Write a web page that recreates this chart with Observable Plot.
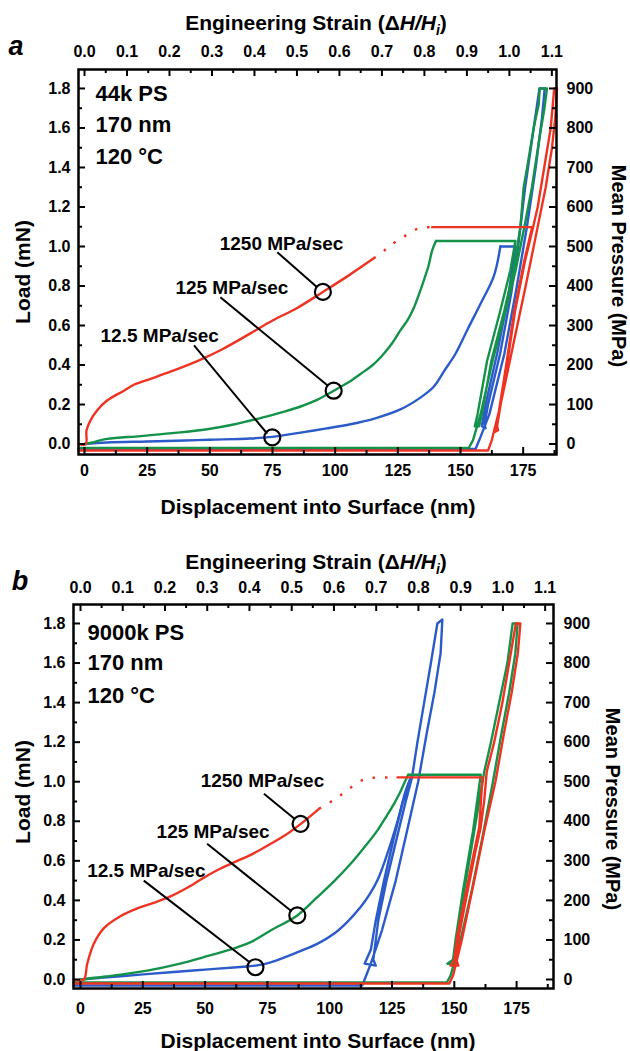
<!DOCTYPE html>
<html>
<head>
<meta charset="utf-8">
<script src="https://cdn.jsdelivr.net/npm/d3@7"></script>
<script src="https://cdn.jsdelivr.net/npm/@observablehq/plot@0.6"></script>
<style>
  html, body { margin: 0; padding: 0; background: #fff; }
  .panel { line-height: 0; width: 630px; }
  .panel svg { display: block; }
</style>
</head>
<body>
<div id="panelA" class="panel"></div>
<div id="panelB" class="panel"></div>
<script>
// ---------- constants ----------
const RED = "#ee3322", GREEN = "#14924a", BLUE = "#2a5bc9";
const FONT = "'Liberation Sans', Arial, Helvetica, sans-serif";
const FILM_NM = 169.5;      // strain = displacement / film thickness
const MPA_PER_MN = 500;     // mean pressure per mN of load

// ---------- tick values ----------
const dispTicks = [0, 25, 50, 75, 100, 125, 150, 175];
const dispMinor = [12.5, 37.5, 62.5, 87.5, 112.5, 137.5, 162.5, 187.5];
const loadTicks = [0, 0.2, 0.4, 0.6, 0.8, 1.0, 1.2, 1.4, 1.6, 1.8];
const loadMinor = [0.1, 0.3, 0.5, 0.7, 0.9, 1.1, 1.3, 1.5, 1.7];
const strainTicks = [0, 0.1, 0.2, 0.3, 0.4, 0.5, 0.6, 0.7, 0.8, 0.9, 1.0, 1.1];
const strainMinor = [0.05, 0.15, 0.25, 0.35, 0.45, 0.55, 0.65, 0.75, 0.85, 0.95, 1.05];
const pressureTicks = [0, 100, 200, 300, 400, 500, 600, 700, 800, 900];

// ---------- panel a : 44k PS (displacement nm, load mN) ----------
const aRedLoad = [[-2.4,0],[0.5,0],[0.8,0.07],[2.4,0.12],[5,0.17],[9,0.22],[15.7,0.27],[19.7,0.30],[26.3,0.33],[35,0.37],[45,0.42],[55,0.48],[66.2,0.56],[75,0.625],[85,0.69],[95.1,0.77],[105,0.85],[115.4,0.94]];
const aRedGap = [[115.4,0.94],[118.7,0.97],[121.4,1.0],[127.4,1.05],[133.4,1.092],[138.7,1.098]];
const aRedRest = [[138.7,1.098],[178.6,1.098],[175.5,0.93],[171.5,0.676],[167.5,0.34],[164.5,0.1],[163.5,0.06],[165,0.07],[164.6,0.09],[167.8,0.34],[171.8,0.676],[175.8,0.93],[179,1.1],[180.8,1.2],[183.4,1.4],[186,1.6],[187.4,1.8],[188.5,1.8],[187.8,1.65],[186.5,1.5],[184,1.3],[180,1.05],[176,0.8],[171,0.5],[166,0.2],[162.5,0.02],[161,-0.033],[-2.4,-0.033]];
const aGreenLoad = [[0,0],[3.7,0.01],[9,0.026],[22.3,0.04],[35,0.055],[48.9,0.075],[60,0.1],[66.2,0.119],[72.9,0.14],[80,0.165],[86.2,0.19],[93,0.225],[99.4,0.27],[105,0.31],[110.1,0.355],[115,0.4],[119.4,0.457],[123,0.515],[126,0.575],[129,0.63],[131.4,0.69],[133.5,0.76],[135.4,0.83],[137.2,0.9],[138.7,0.98],[140.2,1.028]];
const aGreenRest = [[140.2,1.028],[171.9,1.028],[169.9,0.88],[165.9,0.676],[160.6,0.42],[156.8,0.15],[155.7,0.09],[157.4,0.09],[158.5,0.15],[162.3,0.42],[167.5,0.676],[171.2,0.88],[173.9,1.1],[175.2,1.3],[176.6,1.4],[179.2,1.6],[181.2,1.72],[181.6,1.8],[184.5,1.8],[183.5,1.7],[181.5,1.55],[178.5,1.3],[175.5,1.1],[172,0.88],[168,0.676],[162.8,0.42],[158,0.15],[155,0.02],[153.3,-0.02],[-2.4,-0.02]];
const aBlueLoad = [[0,0],[9,0.008],[25,0.013],[40,0.018],[50,0.022],[66.2,0.028],[74.9,0.036],[86.2,0.058],[96,0.078],[106.1,0.10],[116,0.13],[126,0.175],[134,0.235],[139.3,0.29],[143.5,0.37],[148,0.457],[153,0.585],[158,0.71],[163.3,0.85],[165.9,1.0]];
const aBlueRest = [[165.9,1.0],[171.9,1.0],[169.2,0.76],[164.6,0.457],[160,0.2],[158.5,0.09],[160,0.08],[159.6,0.1],[161,0.2],[165.8,0.457],[170.2,0.76],[173,1.0],[175.8,1.3],[179.2,1.6],[181.5,1.8],[183.6,1.8],[182.5,1.65],[180,1.4],[176.5,1.1],[172.5,0.8],[167.5,0.457],[161.5,0.15],[157.5,0.02],[156,-0.025],[-2.4,-0.025]];
const aLabels = [{x:78.6, y:1.015, text:"1250 MPa/sec"},{x:58.8, y:0.792, text:"125 MPa/sec"},{x:30.0, y:0.549, text:"12.5 MPa/sec"}];
const aLinks = [{x1:76.9,y1:0.971,x2:92.8,y2:0.794},{x1:54.2,y1:0.743,x2:97.0,y2:0.296},{x1:43.7,y1:0.499,x2:72.9,y2:0.052}];
const aCircles = [{x:95.1,y:0.77},{x:99.4,y:0.27},{x:74.9,y:0.034}];
const aInfo = ["44k PS", "170 nm", "120 \u00B0C"];

// ---------- panel b : 9000k PS ----------
const bRedLoad = [[-2.8,0],[1.3,0],[2.7,0.08],[5.3,0.18],[9.4,0.26],[16,0.32],[22.8,0.36],[30,0.39],[36.1,0.42],[43,0.465],[49.5,0.515],[56,0.56],[62.9,0.60],[68.3,0.63],[76.3,0.686],[81.6,0.725],[88.4,0.787],[95.7,0.863]];
const bRedGap = [[95.7,0.863],[102.4,0.914],[108.4,0.97],[114.5,1.015],[119.8,1.02],[127.2,1.022]];
const bRedRest = [[127.2,1.022],[161.3,1.022],[160,0.77],[158,0.65],[154,0.40],[151.3,0.23],[150,0.096],[148.5,0.07],[151.6,0.07],[150.8,0.1],[152,0.23],[154.6,0.40],[158.5,0.65],[160.6,0.77],[162,0.905],[163,1.05],[166,1.2],[169.3,1.4],[172,1.6],[174.7,1.8],[176.5,1.8],[175.5,1.65],[173,1.45],[170,1.25],[166.5,1.0],[162,0.75],[158,0.5],[153,0.2],[149.5,0.02],[148,-0.02],[-2.8,-0.02]];
const bGreenLoad = [[0,0],[10,0.015],[26.8,0.045],[40,0.08],[49.5,0.113],[62.9,0.163],[68.3,0.189],[76.3,0.248],[87,0.324],[95,0.416],[102,0.5],[108.4,0.585],[114,0.67],[119.1,0.753],[123,0.83],[125.8,0.888],[128,0.94],[129.8,0.99],[131.5,1.035]];
const bGreenRest = [[131.5,1.035],[160.6,1.035],[157.5,0.75],[153.5,0.45],[150.5,0.2],[149.5,0.1],[147.2,0.08],[150.5,0.08],[151,0.2],[154,0.45],[158,0.75],[162,1.05],[164.7,1.2],[168,1.4],[171.3,1.6],[173.4,1.8],[175.4,1.8],[174.5,1.65],[172,1.45],[169,1.25],[165.5,1.0],[161,0.7],[157,0.45],[152.5,0.2],[148.5,0.02],[147,-0.015],[-2.8,-0.015]];
const bBlueLoad = [[0,0],[15,0.015],[36.1,0.037],[50,0.05],[62.9,0.062],[70.2,0.07],[76.3,0.087],[88.4,0.145],[95,0.18],[101.7,0.231],[107,0.29],[112.4,0.366],[116,0.43],[119.1,0.5],[123.1,0.635],[127.2,0.80],[130.5,0.955],[132.5,1.02]];
const bBlueRest = [[132.5,1.02],[129.2,0.89],[125.8,0.72],[121.8,0.5],[118.5,0.3],[116.5,0.15],[114,0.08],[118.5,0.07],[117.5,0.1],[119.5,0.3],[122.8,0.5],[127,0.72],[130.5,0.9],[133,1.02],[135.2,1.2],[137.9,1.4],[140.6,1.6],[143.2,1.8],[145.2,1.82],[144.5,1.65],[142,1.45],[139,1.25],[135.5,1.0],[131,0.75],[126.5,0.5],[121,0.25],[116.5,0.08],[114,0.0],[113.1,-0.03],[-2.8,-0.03]];
const bLabels = [{x:73.0, y:1.006, text:"1250 MPa/sec"},{x:53.2, y:0.745, text:"125 MPa/sec"},{x:26.4, y:0.551, text:"12.5 MPa/sec"}];
const bLinks = [{x1:73.6,y1:0.939,x2:86.1,y2:0.81},{x1:50.8,y1:0.686,x2:84.7,y2:0.345},{x1:25.4,y1:0.50,x2:68.0,y2:0.086}];
const bCircles = [{x:88.3,y:0.787},{x:87.0,y:0.324},{x:70.2,y:0.062}];
const bInfo = ["9000k PS", "170 nm", "120 \u00B0C"];

// ---------- drawing ----------
function makePanel(p) {
  const W = 630;
  const ph = p.height - p.mt - p.mb, pw = W - p.ml - p.mr;
  const xy = {x: d => d[0], y: d => d[1]};
  const lineOpts = c => ({...xy, stroke: c, strokeWidth: 2.4, strokeLinejoin: "round", strokeLinecap: "round"});
  const smoothOpts = c => ({...lineOpts(c), curve: "catmull-rom"});
  const tk = {stroke: "black", strokeWidth: 2};
  const strainPos = strainTicks.map(s => s * FILM_NM);
  const strainMinorPos = strainMinor.map(s => s * FILM_NM);
  const pressurePos = pressureTicks.map(v => v / MPA_PER_MN);
  const plot = Plot.plot({
    width: W, height: p.height,
    marginTop: p.mt, marginBottom: p.mb, marginLeft: p.ml, marginRight: p.mr,
    x: {domain: p.xDomain},
    y: {domain: p.yDomain},
    style: {fontFamily: FONT, fontWeight: "bold", fontSize: "16px", background: "white", color: "black"},
    marks: [
      Plot.line(p.blueLoad, smoothOpts(BLUE)),
      Plot.line(p.blueRest, lineOpts(BLUE)),
      Plot.line(p.greenLoad, smoothOpts(GREEN)),
      Plot.line(p.greenRest, lineOpts(GREEN)),
      Plot.line(p.redLoad, smoothOpts(RED)),
      Plot.line(p.redGap, {...smoothOpts(RED), strokeDasharray: "2.5,10", strokeLinecap: "butt"}),
      Plot.line(p.redRest, lineOpts(RED)),
      Plot.link(p.links, {x1: "x1", y1: "y1", x2: "x2", y2: "y2", stroke: "black", strokeWidth: 2}),
      Plot.dot(p.circles, {x: "x", y: "y", r: 8, stroke: "black", strokeWidth: 2.2, fill: "none"}),
      Plot.text(p.labels, {x: "x", y: "y", text: "text", fontSize: 19, fontWeight: "bold", textAnchor: "middle", lineAnchor: "middle", fill: "black"}),
      ...p.info.map((t, i) => Plot.text([t], {frameAnchor: "top-left", text: d => d, dx: p.infoDx, dy: p.infoDy[i], textAnchor: "start", lineAnchor: "middle", fontSize: 22, fontWeight: "bold", fill: "black"})),
      // inward ticks
      Plot.tickX(dispTicks, {x: d => d, insetTop: ph - 7, ...tk}),
      Plot.tickX(dispMinor, {x: d => d, insetTop: ph - 4, ...tk}),
      Plot.tickX(strainPos, {x: d => d, insetBottom: ph - 7, ...tk}),
      Plot.tickX(strainMinorPos, {x: d => d, insetBottom: ph - 4, ...tk}),
      Plot.tickY(loadTicks, {y: d => d, insetRight: pw - 7, ...tk}),
      Plot.tickY(loadMinor, {y: d => d, insetRight: pw - 4, ...tk}),
      Plot.tickY(pressurePos, {y: d => d, insetLeft: pw - 7, ...tk}),
      Plot.tickY(loadMinor, {y: d => d, insetLeft: pw - 4, ...tk}),
      // tick labels
      Plot.axisX(dispTicks, {anchor: "bottom", tickSize: 0, tickPadding: p.padBottom, label: null, tickFormat: d => String(d), fontSize: 16, fontWeight: "bold"}),
      Plot.axisX(strainPos, {anchor: "top", tickSize: 0, tickPadding: p.padTop, label: null, tickFormat: d => d3.format(".1f")(d / FILM_NM), fontSize: 16, fontWeight: "bold"}),
      Plot.axisY(loadTicks, {anchor: "left", tickSize: 0, tickPadding: 8, label: null, tickFormat: d3.format(".1f"), fontSize: 16, fontWeight: "bold"}),
      Plot.axisY(pressurePos, {anchor: "right", tickSize: 0, tickPadding: 10, label: null, tickFormat: d => String(Math.round(d * MPA_PER_MN)), fontSize: 16, fontWeight: "bold"}),
      Plot.frame({stroke: "black", strokeWidth: 2.5})
    ]
  });

  const svg = d3.select(plot);
  const g = svg.append("g").attr("font-family", FONT).attr("font-weight", "bold").attr("fill", "black");
  // panel letter
  g.append("text").attr("x", p.letterX).attr("y", p.letterY).attr("text-anchor", "middle")
    .attr("font-size", 27).attr("font-style", "italic").text(p.letter);
  // top axis title
  const t = g.append("text").attr("x", 316).attr("y", p.titleY).attr("text-anchor", "middle").attr("font-size", 21);
  t.append("tspan").text("Engineering Strain (\u0394");
  t.append("tspan").attr("font-style", "italic").text("H/H");
  t.append("tspan").attr("font-style", "italic").attr("font-size", 14).attr("dy", 5).text("i");
  t.append("tspan").attr("dy", -5).text(")");
  // bottom axis title
  g.append("text").attr("x", 318).attr("y", p.bottomTitleY).attr("text-anchor", "middle").attr("font-size", 21)
    .text("Displacement into Surface (nm)");
  // left axis title
  g.append("text").attr("transform", `translate(${p.leftTitleX},${p.leftTitleY}) rotate(-90)`)
    .attr("text-anchor", "middle").attr("font-size", 21).text("Load (mN)");
  // right axis title
  g.append("text").attr("transform", `translate(${p.rightTitleX},${p.rightTitleY}) rotate(90)`)
    .attr("text-anchor", "middle").attr("font-size", 20).text("Mean Pressure (MPa)");
  return plot;
}

document.getElementById("panelA").append(makePanel({
  height: 525, mt: 69, mb: 71, ml: 78, mr: 74,
  xDomain: [-2.4, 188.3], yDomain: [-0.053, 1.896],
  padTop: 13, padBottom: 10,
  blueLoad: aBlueLoad, blueRest: aBlueRest, greenLoad: aGreenLoad, greenRest: aGreenRest,
  redLoad: aRedLoad, redGap: aRedGap, redRest: aRedRest,
  labels: aLabels, links: aLinks, circles: aCircles,
  info: aInfo, infoDx: 17, infoDy: [24, 55, 87],
  letter: "a", letterX: 16, letterY: 55,
  titleY: 30, bottomTitleY: 514,
  leftTitleX: 29.5, leftTitleY: 272,
  rightTitleX: 612, rightTitleY: 266
}));

document.getElementById("panelB").append(makePanel({
  height: 526, mt: 79, mb: 63, ml: 73, mr: 77,
  xDomain: [-2.81, 189.8], yDomain: [-0.0455, 1.896],
  padTop: 12, padBottom: 14,
  blueLoad: bBlueLoad, blueRest: bBlueRest, greenLoad: bGreenLoad, greenRest: bGreenRest,
  redLoad: bRedLoad, redGap: bRedGap, redRest: bRedRest,
  labels: bLabels, links: bLinks, circles: bCircles,
  info: bInfo, infoDx: 14, infoDy: [28, 58, 91],
  letter: "b", letterX: 20, letterY: 65,
  titleY: 43.5, bottomTitleY: 522.5,
  leftTitleX: 29.5, leftTitleY: 267,
  rightTitleX: 606, rightTitleY: 284
}));
</script>
</body>
</html>
